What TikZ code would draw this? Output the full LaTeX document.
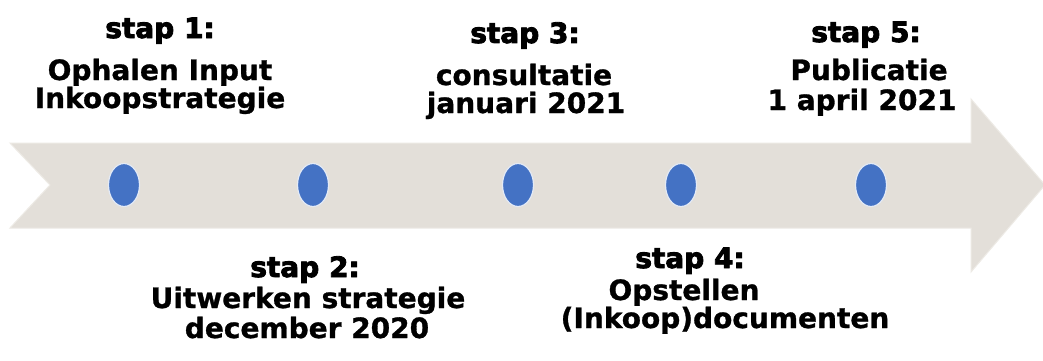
\documentclass[tikz,border=0pt]{standalone}
\usepackage{fontspec}
\setmainfont{DejaVu Sans}
\newfontfamily\lblfont{DejaVu Sans Bold}[FakeBold=1]
\newfontfamily\stapfont{DejaVu Sans Bold}[FakeBold=3]
\usetikzlibrary{shapes.geometric}
\definecolor{arrowfill}{HTML}{E3DFD9}
\definecolor{arrowedge}{HTML}{EDEAE5}
\definecolor{dotblue}{HTML}{4472C4}
\tikzset{
  lbl/.style={font=\lblfont\fontsize{28}{30}\selectfont, anchor=base, inner sep=0pt},
  stp/.style={font=\stapfont\fontsize{28}{30}\selectfont, anchor=base, inner sep=0pt},
  dot/.style={ellipse, fill=dotblue, draw=white!85!dotblue, line width=1.2pt, minimum width=31pt, minimum height=43pt, inner sep=0pt}
}
\begin{document}
\begin{tikzpicture}[x=1pt,y=-1pt]
\useasboundingbox (0,0) rectangle (1043,361);
\fill[white] (0,0) rectangle (1043,361);
% arrow
\filldraw[fill=arrowfill, draw=arrowedge, line width=1pt]
  (10,143) -- (971,143) -- (971,99) -- (1045,185) -- (971,272) -- (971,228)
  -- (10,228) -- (50,185) -- cycle;
% dots
\node[dot] (d1) at (124,185) {};
\node[dot] (d2) at (313,185) {};
\node[dot] (d3) at (518,185) {};
\node[dot] (d4) at (681,185) {};
\node[dot] (d5) at (871,185) {};
% step 1
\node[stp] (s1a) at (160,38) {stap 1:};
\node[lbl] (s1b) at (160,80) {Ophalen Input};
\node[lbl] (s1c) at (160,108) {Inkoopstrategie};
% step 3
\node[stp] (s3a) at (525,43) {stap 3:};
\node[lbl] (s3b) at (524,85) {consultatie};
\node[lbl] (s3c) at (526,113) {januari 2021};
% step 5
\node[stp] (s5a) at (866,42) {stap 5:};
\node[lbl] (s5b) at (869,80) {Publicatie};
\node[lbl] (s5c) at (862,110) {1 april 2021};
% step 2
\node[stp] (s2a) at (305,277) {stap 2:};
\node[lbl] (s2b) at (308,308) {Uitwerken strategie};
\node[lbl] (s2c) at (307,338) {december 2020};
% step 4
\node[stp] (s4a) at (690,268) {stap 4:};
\node[lbl] (s4b) at (684,300) {Opstellen};
\node[lbl] (s4c) at (725,328) {(Inkoop)documenten};
\end{tikzpicture}
\end{document}
